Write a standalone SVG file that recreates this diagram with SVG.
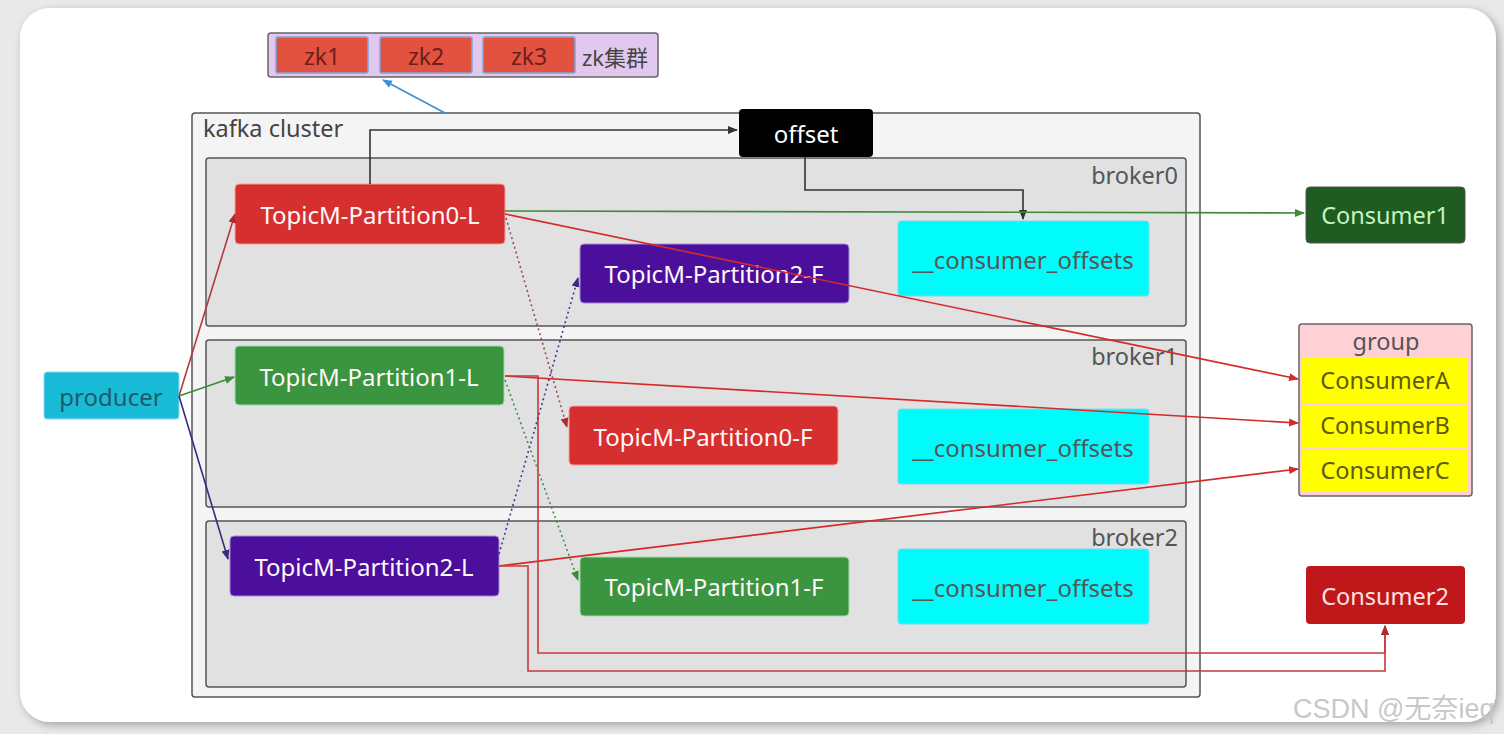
<svg xmlns="http://www.w3.org/2000/svg" width="1504" height="734" viewBox="0 0 1504 734">
<defs>
<style>
text{font-family:"Noto Sans","Noto Sans CJK SC",sans-serif}
.lbl{font-size:24px;text-anchor:middle;dominant-baseline:central}
.w{fill:#fff8f8}
.grp{fill:#f4f4f4;stroke:#555;stroke-width:1.5}
.brk{fill:#e1e1e1;stroke:#555;stroke-width:1.5}
.bl{font-size:23.5px;fill:#555;text-anchor:end}
.co{fill:#00fbfb;stroke:#7de;stroke-width:1}
.cot{fill:#555}
.red{fill:#d62f2f;stroke:#f3a0a0;stroke-width:1}
.pur{fill:#4b0f9c;stroke:#a88adf;stroke-width:1}
.grn{fill:#3a9440;stroke:#a5dca5;stroke-width:1}
.e{fill:none;stroke-width:1.6}
.zk{fill:#e2523f;stroke:#7ea6e0;stroke-width:1.5}
.yl{fill:#ffff00}
.ylt{fill:#5e5a10;font-size:23.5px;text-anchor:middle;dominant-baseline:central}
</style>
<filter id="sh" x="-5%" y="-5%" width="110%" height="110%">
<feDropShadow dx="3" dy="3" stdDeviation="4" flood-color="#000" flood-opacity="0.3"/>
</filter>
<marker id="aK" markerWidth="10" markerHeight="10" refX="9" refY="5" orient="auto" markerUnits="userSpaceOnUse"><path d="M0,1 L10,5 L0,9 Z" fill="#333"/></marker>
<marker id="aR" markerWidth="10" markerHeight="10" refX="9" refY="5" orient="auto" markerUnits="userSpaceOnUse"><path d="M0,1 L10,5 L0,9 Z" fill="#d42a2a"/></marker>
<marker id="aDR" markerWidth="10" markerHeight="10" refX="9" refY="5" orient="auto" markerUnits="userSpaceOnUse"><path d="M0,1 L10,5 L0,9 Z" fill="#b02a30"/></marker>
<marker id="aG" markerWidth="10" markerHeight="10" refX="9" refY="5" orient="auto" markerUnits="userSpaceOnUse"><path d="M0,1 L10,5 L0,9 Z" fill="#3d8a3d"/></marker>
<marker id="aP" markerWidth="10" markerHeight="10" refX="9" refY="5" orient="auto" markerUnits="userSpaceOnUse"><path d="M0,1 L10,5 L0,9 Z" fill="#3a2a80"/></marker>
<marker id="aB" markerWidth="10" markerHeight="10" refX="9" refY="5" orient="auto" markerUnits="userSpaceOnUse"><path d="M0,1 L10,5 L0,9 Z" fill="#3c8fd8"/></marker>
</defs>
<rect x="0" y="0" width="1504" height="734" fill="#e9e9e9"/>
<rect x="20" y="8" width="1476" height="714" rx="30" fill="#fff" filter="url(#sh)"/>

<g id="zk-cluster">
<rect x="268" y="33" width="390" height="44" rx="3" fill="#e2c8ee" stroke="#666" stroke-width="1.5"/>
<text x="615" y="57" style="font-size:22px;fill:#444;text-anchor:middle;dominant-baseline:central">zk集群</text>
</g>
<g id="zk1"><rect class="zk" x="276" y="37" width="92" height="36" rx="2"/><text class="lbl" x="322" y="56" style="fill:#6a1f1f;font-size:23px">zk1</text></g>
<g id="zk2"><rect class="zk" x="380" y="37" width="92" height="36" rx="2"/><text class="lbl" x="426" y="56" style="fill:#6a1f1f;font-size:23px">zk2</text></g>
<g id="zk3"><rect class="zk" x="483" y="37" width="92" height="36" rx="2"/><text class="lbl" x="529" y="56" style="fill:#6a1f1f;font-size:23px">zk3</text></g>

<g id="kafka-cluster">
<rect class="grp" x="192" y="113" width="1008" height="584" rx="3"/>
<text x="203" y="137" style="font-size:23.5px;fill:#444">kafka cluster</text>
</g>
<g id="broker0"><rect class="brk" x="206" y="158" width="980" height="168" rx="3"/><text class="bl" x="1178" y="184">broker0</text></g>
<g id="broker1"><rect class="brk" x="206" y="340" width="980" height="167" rx="3"/><text class="bl" x="1178" y="365">broker1</text></g>
<g id="broker2"><rect class="brk" x="206" y="521" width="980" height="166" rx="3"/><text class="bl" x="1178" y="546">broker2</text></g>

<g id="offset"><rect x="739" y="109" width="134" height="48" rx="4" fill="#000"/><text class="lbl w" x="806" y="133" style="fill:#fff">offset</text></g>

<g id="p0L"><rect class="red" x="235" y="184" width="270" height="60" rx="4"/><text class="lbl w" x="370" y="214">TopicM-Partition0-L</text></g>
<g id="p2F"><rect class="pur" x="580" y="244" width="269" height="59" rx="4"/><text class="lbl w" x="714" y="273">TopicM-Partition2-F</text></g>
<g id="co0"><rect class="co" x="898" y="221" width="251" height="75" rx="3"/><text class="lbl cot" x="1023" y="259">__consumer_offsets</text></g>

<g id="p1L"><rect class="grn" x="235" y="346" width="269" height="59" rx="4"/><text class="lbl w" x="369" y="376">TopicM-Partition1-L</text></g>
<g id="p0F"><rect class="red" x="569" y="406" width="269" height="59" rx="4"/><text class="lbl w" x="703" y="436">TopicM-Partition0-F</text></g>
<g id="co1"><rect class="co" x="898" y="409" width="251" height="75" rx="3"/><text class="lbl cot" x="1023" y="447">__consumer_offsets</text></g>

<g id="p2L"><rect class="pur" x="230" y="536" width="269" height="60" rx="4"/><text class="lbl w" x="364" y="566">TopicM-Partition2-L</text></g>
<g id="p1F"><rect class="grn" x="580" y="557" width="269" height="59" rx="4"/><text class="lbl w" x="714" y="586">TopicM-Partition1-F</text></g>
<g id="co2"><rect class="co" x="898" y="549" width="251" height="75" rx="3"/><text class="lbl cot" x="1023" y="587">__consumer_offsets</text></g>

<g id="producer"><rect x="44" y="372" width="135" height="47" rx="3" fill="#19bcd6" stroke="#7fe0ec" stroke-width="1"/><text class="lbl" x="111" y="396" style="fill:#1e5a6c">producer</text></g>

<g id="consumer1"><rect x="1306" y="187" width="159" height="56" rx="4" fill="#1f5c22" stroke="#555" stroke-width="1"/><text class="lbl" x="1385" y="215" style="fill:#c6f3c0;font-size:23.5px">Consumer1</text></g>

<g id="group">
<rect x="1299" y="324" width="173" height="172" rx="3" fill="#ffd0d6" stroke="#666" stroke-width="1.5"/>
<text class="lbl" x="1386" y="341" style="fill:#555;font-size:23.5px">group</text>
</g>
<g id="consumerA"><rect class="yl" x="1302" y="358" width="166" height="45"/><text class="ylt" x="1385" y="380">ConsumerA</text></g>
<g id="consumerB"><rect class="yl" x="1302" y="405" width="166" height="42"/><text class="ylt" x="1385" y="425">ConsumerB</text></g>
<g id="consumerC"><rect class="yl" x="1302" y="450" width="166" height="42"/><text class="ylt" x="1385" y="470">ConsumerC</text></g>

<g id="consumer2"><rect x="1306" y="566" width="159" height="58" rx="4" fill="#c0181a"/><text class="lbl" x="1385" y="596" style="fill:#ffe0e0;font-size:23.5px">Consumer2</text></g>

<g id="connectors">
<path class="e" d="M445,113 L383,80" stroke="#3c8fd8" marker-end="url(#aB)"/>
<path class="e" d="M370,184 V130 H737" stroke="#333" marker-end="url(#aK)"/>
<path class="e" d="M805,157 V190 H1023 V219" stroke="#333" marker-end="url(#aK)"/>
<path class="e" d="M505,211 L1304,213" stroke="#3d8a3d" marker-end="url(#aG)"/>
<path class="e" d="M505,214 L1298,379" stroke="#d42a2a" marker-end="url(#aR)"/>
<path class="e" d="M505,376 L1298,423" stroke="#d42a2a" marker-end="url(#aR)"/>
<path class="e" d="M499,566 L1298,469" stroke="#d42a2a" marker-end="url(#aR)"/>
<path class="e" d="M505,376 H538 V653 H1385 V626" stroke="#c83a3a" stroke-width="1.3" marker-end="url(#aDR)"/>
<path class="e" d="M499,566 H528 V671 H1385 V626" stroke="#c83a3a" stroke-width="1.3" marker-end="url(#aDR)"/>
<path class="e" d="M179,396 L235,214" stroke="#b33a44" marker-end="url(#aDR)"/>
<path class="e" d="M179,396 L234,377" stroke="#3d8a3d" marker-end="url(#aG)"/>
<path class="e" d="M179,396 L228,559" stroke="#3a2a80" marker-end="url(#aP)"/>
<path class="e" d="M506,218 L567,427" stroke="#9a4a5a" stroke-dasharray="2,3" marker-end="url(#aDR)"/>
<path class="e" d="M499,554 L578,278" stroke="#3a3a90" stroke-dasharray="2,3" marker-end="url(#aP)"/>
<path class="e" d="M505,380 L578,580" stroke="#4a8a4a" stroke-dasharray="2,3" marker-end="url(#aG)"/>
</g>

<text x="1293" y="718" style="font-size:27px;fill:#c8c8c8;font-family:'Liberation Sans','Noto Sans CJK SC',sans-serif">CSDN @无奈ieq</text>
</svg>
